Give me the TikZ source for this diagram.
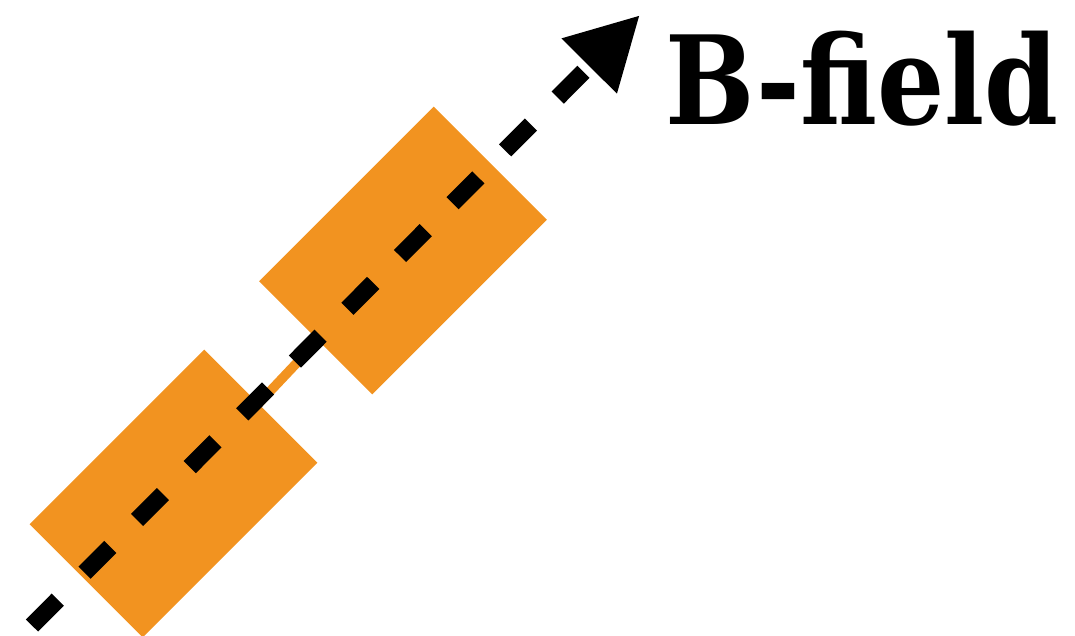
\documentclass[tikz,border=0pt]{standalone}
\usepackage{fontspec}
\setmainfont{DejaVu Serif}
\usetikzlibrary{arrows.meta}
\definecolor{rodorange}{RGB}{242,147,32}
\begin{document}
\begin{tikzpicture}[x=1pt,y=-1pt,
  magnet/.style={fill=rodorange, draw=none, minimum width=247pt, minimum height=160pt, inner sep=0pt, rotate=45},
  rod/.style={draw=rodorange, line width=9.5pt},
  field/.style={line width=17.2pt, dash pattern=on 36.5pt off 38pt, -{Triangle[length=72pt,width=73pt]}},
  lbl/.style={font=\bfseries\fontsize{123}{123}\selectfont, inner sep=0pt, anchor=base west}]
\useasboundingbox (0,0) rectangle (1075,635);
\node[magnet] (m1) at (173.5,493.5) {};
\node[magnet] (m2) at (403,250.5) {};
\draw[rod] (m1.center) -- (m2.center);
\coordinate (fs) at (32,625.5);
\coordinate (fe) at (640,15);
\draw[field] (fs) -- (fe);
\node[lbl, xscale=0.86] (bf) at (665,124) {B-field};
\end{tikzpicture}
\end{document}
